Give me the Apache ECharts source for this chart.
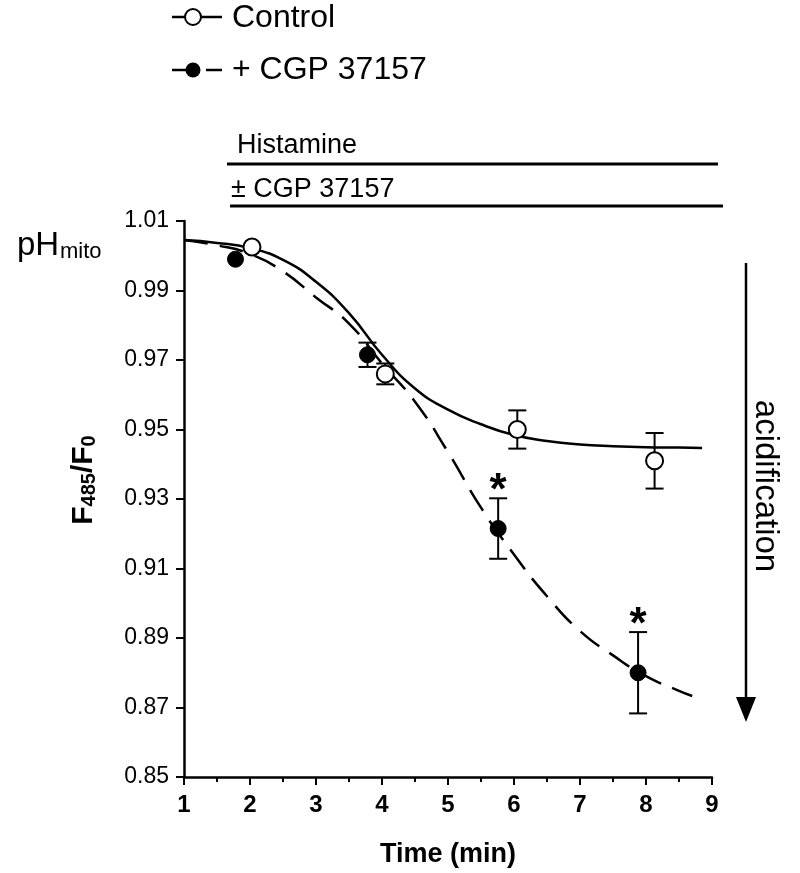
<!DOCTYPE html>
<html>
<head>
<meta charset="utf-8">
<script src="https://cdn.jsdelivr.net/npm/echarts@6/dist/echarts.min.js"></script>
<style>
html,body{margin:0;padding:0;background:#fff;}
#chart{width:800px;height:873px;}
</style>
</head>
<body>
<div id="chart"></div>
<script>
// ---- data ----
const ctrlTime  = [2.03, 4.05, 6.05, 8.13];
const ctrlRatio = [1.0025, 0.966, 0.950, 0.941];
const ctrlSem   = [0.0008, 0.003, 0.0055, 0.008];

const cgpTime   = [1.78, 3.78, 5.76, 7.88];
const cgpRatio  = [0.999, 0.9715, 0.9215, 0.880];
const cgpSem    = [0.0008, 0.0035, 0.0087, 0.0117];
const cgpSignificant = [false, false, true, true];

// fitted curves
const ctrlFitTime  = [1, 1.5, 2, 2.5, 3, 3.5, 4, 4.5, 5, 5.5, 6, 6.5, 7, 7.5, 8, 8.5, 8.85];
const ctrlFitRatio = [1.0045, 1.0037, 1.0022, 0.9988, 0.9925, 0.9835, 0.9715, 0.9618, 0.9557, 0.9515, 0.9484, 0.9467, 0.9457, 0.9452, 0.9449, 0.9448, 0.9447];
const cgpFitTime   = [1, 1.5, 2, 2.5, 3, 3.5, 4, 4.5, 5, 5.5, 6, 6.5, 7, 7.5, 8, 8.5, 8.7];
const cgpFitRatio  = [1.0045, 1.003, 1.0005, 0.9955, 0.988, 0.9805, 0.969, 0.958, 0.9435, 0.9275, 0.914, 0.902, 0.892, 0.885, 0.879, 0.8748, 0.8733];

const legendNames = ['Control', '+ CGP 37157'];
const barLabels = ['Histamine', '\u00B1 CGP 37157'];
const xAxisTitle = 'Time (min)';
const arrowLabel = 'acidification';

const FONT = '"Liberation Sans", Arial, sans-serif';
const zip = (a, b) => a.map((v, i) => [v, b[i]]);

const chart = echarts.init(document.getElementById('chart'), null, {renderer: 'canvas'});

function errRender(sig) {
  return function (params, api) {
    const i = params.dataIndex;
    const x = api.value(0), y = api.value(1), e = api.value(2);
    const top = api.coord([x, y + e]);
    const bot = api.coord([x, y - e]);
    const hw = 9;
    const st = {stroke: '#000', lineWidth: 2};
    const children = [];
    if (bot[1] - top[1] > 18) {
      children.push(
        {type: 'line', shape: {x1: top[0], y1: top[1], x2: bot[0], y2: bot[1]}, style: st},
        {type: 'line', shape: {x1: top[0] - hw, y1: top[1], x2: top[0] + hw, y2: top[1]}, style: st},
        {type: 'line', shape: {x1: bot[0] - hw, y1: bot[1], x2: bot[0] + hw, y2: bot[1]}, style: st}
      );
    }
    if (sig && sig[i]) {
      children.push({type: 'text', x: top[0], y: top[1] - 6,
        style: {text: '*', fontSize: 44, fontWeight: 'bold', fontFamily: FONT, fill: '#000', align: 'center', verticalAlign: 'middle'}});
    }
    return {type: 'group', children};
  };
}

const option = {
  backgroundColor: '#fff',
  animation: false,
  grid: {left: 184, right: 88, top: 221, bottom: 95},
  xAxis: {
    type: 'value', min: 1, max: 9, interval: 1,
    axisLine: {lineStyle: {color: '#000', width: 2.5}},
    axisTick: {length: 8, lineStyle: {color: '#000', width: 2}},
    minorTick: {show: true, splitNumber: 2, length: 5, lineStyle: {color: '#000', width: 2}},
    splitLine: {show: false},
    axisLabel: {color: '#000', fontSize: 24, fontWeight: 'bold', fontFamily: FONT, margin: 16},
    name: xAxisTitle, nameLocation: 'middle', nameGap: 64,
    nameTextStyle: {color: '#000', fontSize: 27, fontWeight: 'bold', fontFamily: FONT}
  },
  yAxis: {
    type: 'value', min: 0.85, max: 1.01, interval: 0.02,
    axisLine: {lineStyle: {color: '#000', width: 2.5}},
    axisTick: {length: 8, lineStyle: {color: '#000', width: 2}},
    splitLine: {show: false},
    axisLabel: {color: '#000', fontSize: 23, fontFamily: FONT, margin: 15,
      formatter: v => (Math.round(v * 100) / 100).toFixed(2)}
  },
  series: [
    {type: 'line', name: 'Control fit', data: zip(ctrlFitTime, ctrlFitRatio), smooth: 0.5,
      symbol: 'none', lineStyle: {color: '#000', width: 2.5}, z: 2},
    {type: 'line', name: 'CGP fit', data: zip(cgpFitTime, cgpFitRatio), smooth: 0.5,
      symbol: 'none', lineStyle: {color: '#000', width: 2.5, type: [24, 12]}, z: 2},
    {type: 'custom', name: 'Control err', data: ctrlTime.map((t, i) => [t, ctrlRatio[i], ctrlSem[i]]),
      renderItem: errRender(null), z: 3},
    {type: 'custom', name: 'CGP err', data: cgpTime.map((t, i) => [t, cgpRatio[i], cgpSem[i]]),
      renderItem: errRender(cgpSignificant), z: 3},
    {type: 'scatter', name: legendNames[0], data: zip(ctrlTime, ctrlRatio), symbol: 'circle', symbolSize: 17,
      itemStyle: {color: '#fff', borderColor: '#000', borderWidth: 2, opacity: 1}, z: 5},
    {type: 'scatter', name: legendNames[1], data: zip(cgpTime, cgpRatio), symbol: 'circle', symbolSize: 16,
      itemStyle: {color: '#000', borderColor: '#000', borderWidth: 1, opacity: 1}, z: 5}
  ],
  graphic: [
    // legend
    {type: 'line', shape: {x1: 172, y1: 17, x2: 222, y2: 17}, style: {stroke: '#000', lineWidth: 2.5}},
    {type: 'circle', shape: {cx: 193, cy: 17, r: 8}, style: {fill: '#fff', stroke: '#000', lineWidth: 2}},
    {type: 'text', x: 232, y: 18, style: {text: legendNames[0], fontSize: 32, fontFamily: FONT, fill: '#000', verticalAlign: 'middle'}},
    {type: 'line', shape: {x1: 172, y1: 70, x2: 193, y2: 70}, style: {stroke: '#000', lineWidth: 2.5}},
    {type: 'line', shape: {x1: 206, y1: 70, x2: 222, y2: 70}, style: {stroke: '#000', lineWidth: 2.5}},
    {type: 'circle', shape: {cx: 193, cy: 70, r: 7.5}, style: {fill: '#000'}},
    {type: 'text', x: 232, y: 70, style: {text: legendNames[1], fontSize: 32, fontFamily: FONT, fill: '#000', verticalAlign: 'middle'}},
    // treatment bars
    {type: 'text', x: 237, y: 146, style: {text: barLabels[0], fontSize: 27, fontFamily: FONT, fill: '#000', verticalAlign: 'middle'}},
    {type: 'line', shape: {x1: 227, y1: 164, x2: 718, y2: 164}, style: {stroke: '#000', lineWidth: 3}},
    {type: 'text', x: 231, y: 190, style: {text: barLabels[1], fontSize: 27, fontFamily: FONT, fill: '#000', verticalAlign: 'middle'}},
    {type: 'line', shape: {x1: 230, y1: 206, x2: 723, y2: 206}, style: {stroke: '#000', lineWidth: 3}},
    // pH mito label
    {type: 'text', x: 17, y: 246, style: {text: 'pH', fontSize: 33, fontFamily: FONT, fill: '#000', verticalAlign: 'middle'}},
    {type: 'text', x: 60, y: 252, style: {text: 'mito', fontSize: 22, fontFamily: FONT, fill: '#000', verticalAlign: 'middle'}},
    // y axis title F485/F0
    {type: 'text', x: 84, y: 480, rotation: Math.PI / 2,
      style: {text: '{m|F}{s|485}{m|/F}{s|0}', fill: '#000', align: 'center', verticalAlign: 'middle',
        rich: {
          m: {fontSize: 30, fontWeight: 'bold', fontFamily: FONT, lineHeight: 30},
          s: {fontSize: 20, fontWeight: 'bold', fontFamily: FONT, lineHeight: 18, verticalAlign: 'bottom'}
        }}},
    // acidification arrow
    {type: 'line', shape: {x1: 746, y1: 263, x2: 746, y2: 700}, style: {stroke: '#000', lineWidth: 2.5}},
    {type: 'polygon', shape: {points: [[736, 697], [756, 697], [746, 722]]}, style: {fill: '#000'}},
    {type: 'text', x: 765, y: 486, rotation: -Math.PI / 2,
      style: {text: arrowLabel, fontSize: 33, fontFamily: FONT, fill: '#000', align: 'center', verticalAlign: 'middle'}}
  ]
};
chart.setOption(option);
</script>
</body>
</html>
